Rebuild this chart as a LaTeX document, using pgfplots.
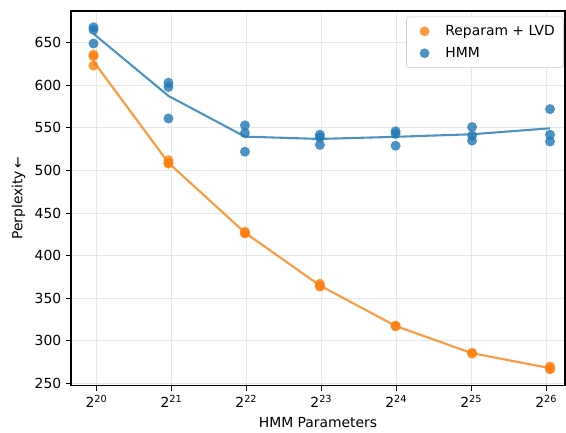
\documentclass[border=0pt]{standalone}
\usepackage{pgfplots}
\pgfplotsset{compat=1.18}
\usepackage{fontspec}
\setmainfont{DejaVu Sans}
\definecolor{tabblue}{HTML}{1F77B4}
\definecolor{taborange}{HTML}{FF7F0E}
\begin{document}
\begin{tikzpicture}
\path[use as bounding box] (-51.12pt,-33.34pt) rectangle (356.4pt,277.7pt);
\begin{axis}[
  at={(0,0)}, anchor=south west,
  scale only axis, width=355.7pt, height=269.8pt,
  xmin=19.66, xmax=26.25, ymin=247.4, ymax=687.2,
  xtick={20,21,22,23,24,25,26},
  xticklabels={2\textsuperscript{20},2\textsuperscript{21},2\textsuperscript{22},2\textsuperscript{23},2\textsuperscript{24},2\textsuperscript{25},2\textsuperscript{26}},
  ytick={250,300,350,400,450,500,550,600,650},
  /pgf/number format/assume math mode=true,
  yticklabel style={/pgf/number format/fixed},
  tick align=outside, tick pos=left,
  major tick length=3.5pt,
  every tick/.style={black, line width=0.8pt},
  axis line style={black, line width=0.8pt},
  grid=major,
  major grid style={color=black!9, line width=0.8pt},
  ticklabel style={font=\fontsize{10}{12}\selectfont},
  label style={font=\fontsize{10}{12}\selectfont},
  xlabel={HMM Parameters},
  ylabel={Perplexity\,←},
  legend style={at={(0.997,0.985)}, anchor=north east, font=\fontsize{10}{12}\selectfont,
    draw=black!20, rounded corners=2pt, inner xsep=4pt, inner ysep=4pt, row sep=3pt},
  legend cell align=left,
  legend image code/.code={\path[draw=none,fill=none] (0pt,0pt) -- (22pt,0pt); \fill[#1,draw=none] (9pt,0pt) circle (3.5pt);},
]
% lines
\addplot[forget plot, color=taborange, opacity=0.8, line width=1.5pt] coordinates {
(19.96,628) (20.96,509) (21.98,427) (22.98,365) (23.99,317.5) (25.01,285.5) (26.05,268)};
\addplot[forget plot, color=tabblue, opacity=0.8, line width=1.5pt] coordinates {
(19.96,660.5) (20.96,587.5) (21.98,539.7) (22.98,537) (23.99,539.5) (25.01,542.5) (26.05,549.5)};
% scatter
\addplot[only marks, mark=*, mark size=3.6pt, color=taborange, mark options={solid, fill=taborange, fill opacity=0.8, draw opacity=0}, fill opacity=0.8] coordinates {
(19.96,636) (19.96,634) (19.96,623)
(20.96,512) (20.96,509) (20.96,508)
(21.98,428) (21.98,427) (21.98,426)
(22.98,367) (22.98,364) (22.98,364)
(23.99,318) (23.99,317)
(25.01,286) (25.01,285)
(26.05,270) (26.05,267) (26.05,267)};
\addlegendentry{Reparam + LVD}
\addplot[only marks, mark=*, mark size=3.6pt, color=tabblue, mark options={solid, fill=tabblue, fill opacity=0.8, draw opacity=0}, fill opacity=0.8] coordinates {
(19.96,668) (19.96,665) (19.96,649)
(20.96,603) (20.96,598) (20.96,561)
(21.98,553) (21.98,544) (21.98,522)
(22.98,542) (22.98,539) (22.98,530)
(23.99,546) (23.99,543) (23.99,529)
(25.01,551) (25.01,541) (25.01,535)
(26.05,572) (26.05,542) (26.05,534)};
\addlegendentry{HMM}
\end{axis}
\end{tikzpicture}
\end{document}
